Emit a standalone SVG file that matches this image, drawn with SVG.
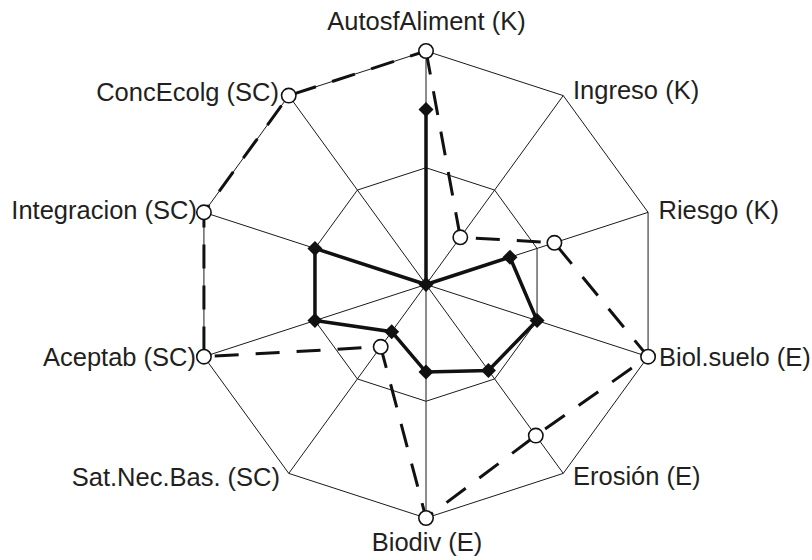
<svg xmlns="http://www.w3.org/2000/svg" width="812" height="560" viewBox="0 0 812 560">
<defs>
<style>
.grid{fill:none;stroke:#1a1a1a;stroke-width:1}
.s1{fill:none;stroke:#111;stroke-width:3.5;stroke-linejoin:miter}
.s2{fill:none;stroke:#111;stroke-width:3;stroke-dasharray:24 17}
.lbl{font-family:"Liberation Sans",Arial,sans-serif;font-size:25.5px;fill:#231f20}
.dia{fill:#111;stroke:none}
.cir{fill:#fff;stroke:#111;stroke-width:1.6}
</style>
<path id="d" d="M0,-7.5 L7.5,0 L0,7.5 L-7.5,0 Z"/>
</defs>
<rect width="812" height="560" fill="#fff"/>
<g id="connectors">
<g id="grid">
<polygon class="grid" points="426,51 563.25,95.6 648.07,212.34 648.07,356.66 563.25,473.4 426,518 288.75,473.4 203.93,356.66 203.93,212.34 288.75,95.6"/>
<polygon class="grid" points="426,167.75 494.62,190.05 537.04,248.42 537.04,320.58 494.62,378.95 426,401.25 357.38,378.95 314.96,320.58 314.96,248.42 357.38,190.05"/>
<path class="grid" d="M426,284.5L426,51M426,284.5L563.25,95.6M426,284.5L648.07,212.34M426,284.5L648.07,356.66M426,284.5L563.25,473.4M426,284.5L426,518M426,284.5L288.75,473.4M426,284.5L203.93,356.66M426,284.5L203.93,212.34M426,284.5L288.75,95.6"/>
</g>
<polygon id="series-b-line" class="s2" points="426,51 460.3,237.3 554.4,242.8 648.07,356.66 535.8,435.6 426,518 380.7,346.8 203.93,356.66 203.93,212.34 288.75,95.6"/>
<polygon id="series-a-line" class="s1" points="426,109.4 426,284.5 509.98,257.21 537.04,320.58 488.44,370.43 426,372.1 391.7,331.7 314.96,320.58 314.96,248.42 426,284.5"/>
</g>
<g id="series-a-markers">
<use href="#d" class="dia" x="426" y="109.4"/>
<use href="#d" class="dia" x="426" y="284.5"/>
<use href="#d" class="dia" x="509.98" y="257.21"/>
<use href="#d" class="dia" x="537.04" y="320.58"/>
<use href="#d" class="dia" x="488.44" y="370.43"/>
<use href="#d" class="dia" x="426" y="372.1"/>
<use href="#d" class="dia" x="391.7" y="331.7"/>
<use href="#d" class="dia" x="314.96" y="320.58"/>
<use href="#d" class="dia" x="314.96" y="248.42"/>
</g>
<g id="series-b-markers">
<circle class="cir" cx="426" cy="51" r="7.2"/>
<circle class="cir" cx="460.3" cy="237.3" r="7.2"/>
<circle class="cir" cx="554.4" cy="242.8" r="7.2"/>
<circle class="cir" cx="648.07" cy="356.66" r="7.2"/>
<circle class="cir" cx="535.8" cy="435.6" r="7.2"/>
<circle class="cir" cx="426" cy="518" r="7.2"/>
<circle class="cir" cx="380.7" cy="346.8" r="7.2"/>
<circle class="cir" cx="203.93" cy="356.66" r="7.2"/>
<circle class="cir" cx="203.93" cy="212.34" r="7.2"/>
<circle class="cir" cx="288.75" cy="95.6" r="7.2"/>
</g>
<g id="axis-autosf"><text class="lbl" x="426.5" y="30" text-anchor="middle">AutosfAliment (K)</text></g>
<g id="axis-ingreso"><text class="lbl" x="573" y="99">Ingreso (K)</text></g>
<g id="axis-riesgo"><text class="lbl" x="658.5" y="219">Riesgo (K)</text></g>
<g id="axis-biolsuelo"><text class="lbl" x="659" y="366">Biol.suelo (E)</text></g>
<g id="axis-erosion"><text class="lbl" x="573" y="485">Erosión (E)</text></g>
<g id="axis-biodiv"><text class="lbl" x="427" y="551" text-anchor="middle">Biodiv (E)</text></g>
<g id="axis-satnec"><text class="lbl" x="280" y="486" text-anchor="end">Sat.Nec.Bas. (SC)</text></g>
<g id="axis-aceptab"><text class="lbl" x="196" y="366" text-anchor="end">Aceptab (SC)</text></g>
<g id="axis-integracion"><text class="lbl" x="197" y="219" text-anchor="end">Integracion (SC)</text></g>
<g id="axis-concecolg"><text class="lbl" x="279" y="101" text-anchor="end">ConcEcolg (SC)</text></g>
</svg>
